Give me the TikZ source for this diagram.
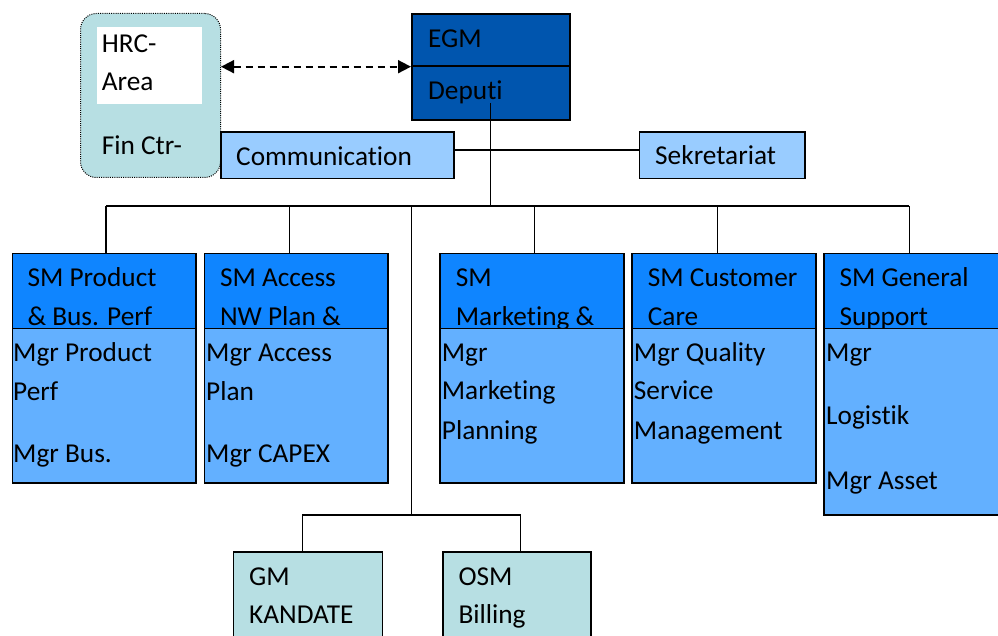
\documentclass[tikz,border=0pt]{standalone}
\usepackage{fontspec}
\setmainfont{Carlito}[Ligatures={NoCommon,NoContextual}]
\usetikzlibrary{arrows.meta}
\newcommand\Ti{t\kern0pt i}
\definecolor{egmblue}{RGB}{0,85,174}
\definecolor{smtop}{RGB}{15,133,255}
\definecolor{smlow}{RGB}{99,176,255}
\definecolor{liteblue}{RGB}{153,204,255}
\definecolor{tealbox}{RGB}{183,223,227}
\tikzset{
  frame/.style={draw=black, line width=1.6pt, inner sep=0pt, anchor=north west},
  lbl/.style={anchor=base west, inner sep=0pt, font=\fontsize{27.3}{33}\selectfont},
  conn/.style={draw=black, line width=1.3pt},
  smbox/.style={frame, fill=smlow,
    path picture={
      \fill[smtop] (path picture bounding box.north west) rectangle ([yshift=-75pt]path picture bounding box.north east);
      \draw[line width=1.6pt] ([yshift=-75pt]path picture bounding box.north west) -- ([yshift=-75pt]path picture bounding box.north east);
    }},
}
\begin{document}
\begin{tikzpicture}[x=1pt,y=-1pt]
\clip (0,0) rectangle (998,636);
\fill[white] (0,0) rectangle (998,636);

% HRC container
\node[frame, draw=black, line width=1pt, dash pattern=on 1pt off 1.2pt, rounded corners=16pt, fill=tealbox,
      minimum width=140pt, minimum height=164pt] (hrc) at (80,13) {};
\node[anchor=north west, inner sep=0pt, fill=white, minimum width=105.3pt, minimum height=77pt] (hrcw) at (96.7,27) {};
\node[lbl] (thrc) at (101.7,53) {HRC-};
\node[lbl] (tarea) at (101.7,91) {Area};
\node[lbl] (tfin) at (101.7,155) {Fin Ctr-};

% EGM
\node[frame, fill=egmblue, minimum width=158pt, minimum height=106pt] (egm) at (411,13) {};
\draw[line width=1.6pt] (egm.west |- 0,66) -- (egm.east |- 0,66);
\node[lbl] (tegm) at (428,48) {EGM};
\node[lbl] (tdep) at (428,100) {Depu\Ti};

% dashed double arrow
\draw[draw=black, line width=1.7pt, dash pattern=on 7pt off 5pt, {Triangle[length=13pt,width=13pt]}-{Triangle[length=13pt,width=13pt]}] (hrc.east |- 0,66.7) -- (egm.west |- 0,66.7);

% Communication / Sekretariat
\node[frame, fill=liteblue, minimum width=233pt, minimum height=46.4pt] (comm) at (220,131.3) {};
\node[lbl] (tcomm) at (236,166) {Communica\Ti on};
\node[frame, fill=liteblue, minimum width=165.6pt, minimum height=46.4pt] (sekr) at (638.7,131.3) {};
\node[lbl] (tsekr) at (655,165) {Sekretariat};

% connectors top
\coordinate (dep) at (490.5,103);
\coordinate (busc) at (490.5,206);
\coordinate (bus1) at (106,206);
\coordinate (bus2) at (289.5,206);
\coordinate (bussub) at (411.7,206);
\coordinate (bus3) at (534.3,206);
\coordinate (bus4) at (717.5,206);
\coordinate (bus5) at (909.3,206);
\coordinate (subb) at (411.7,515);
\coordinate (gmT) at (302.5,515);
\coordinate (osmT) at (520.8,515);
\draw[conn] (dep) -- (busc);
\draw[conn] (comm.east |- 0,150) -- (sekr.west |- 0,150);
\draw[conn] (bus1) -- (bus5);

% SM boxes
\node[smbox, minimum width=183.3pt, minimum height=229.6pt] (sm1) at (11.7,252.7) {};
\node[smbox, minimum width=183.6pt, minimum height=229.6pt] (sm2) at (203.7,252.7) {};
\node[smbox, minimum width=184pt, minimum height=229.6pt] (sm3) at (439,252.7) {};
\node[smbox, minimum width=183.7pt, minimum height=229.6pt] (sm4) at (631.3,252.7) {};
\node[smbox, minimum width=180pt, minimum height=261.6pt] (sm5) at (823.3,252.7) {};

\draw[conn] (bus1) -- (bus1 |- sm1.north);
\draw[conn] (bus2) -- (bus2 |- sm2.north);
\draw[conn] (bus3) -- (bus3 |- sm3.north);
\draw[conn] (bus4) -- (bus4 |- sm4.north);
\draw[conn] (bus5) -- (bus5 |- sm5.north);

% top texts, clipped at divider
\begin{scope}
\clip (0,252.7) rectangle (998,327);
\node[lbl] (t11) at (27.3,286.7) {SM Product};
\node[lbl] (t12) at (27.3,325) {\& Bus. Perf};
\node[lbl] (t21) at (219.8,286.7) {SM Access};
\node[lbl] (t22) at (219.8,325) {NW Plan \&};
\node[lbl] (t31) at (455.7,286.7) {SM};
\node[lbl] (t32) at (455.7,325) {Marke\Ti ng \&};
\node[lbl] (t41) at (647.7,286.7) {SM Customer};
\node[lbl] (t42) at (647.7,325) {Care};
\node[lbl] (t51) at (839.3,286.7) {SM General};
\node[lbl] (t52) at (839.3,325) {Support};
\end{scope}

% lower texts
\node[lbl] (m11) at (13,361.7) {Mgr Product};
\node[lbl] (m12) at (13,400) {Perf};
\node[lbl] (m13) at (13,462.7) {Mgr Bus.};
\node[lbl] (m21) at (206,361.7) {Mgr Access};
\node[lbl] (m22) at (206,400) {Plan};
\node[lbl] (m23) at (206,462.7) {Mgr CAPEX};
\node[lbl] (m31) at (441.7,361.7) {Mgr};
\node[lbl] (m32) at (441.7,399.3) {Marke\Ti ng};
\node[lbl] (m33) at (441.7,439.3) {Planning};
\node[lbl] (m41) at (633.7,361.7) {Mgr Quality};
\node[lbl] (m42) at (633.7,399.3) {Service};
\node[lbl] (m43) at (633.7,439.3) {Management};
\node[lbl] (m51) at (826,361.7) {Mgr};
\node[lbl] (m52) at (826,424.3) {Logis\Ti k};
\node[lbl] (m53) at (826,489.3) {Mgr Asset};

% GM / OSM
\node[frame, fill=tealbox, minimum width=149pt, minimum height=150pt] (gm) at (232.7,551) {};
\node[frame, fill=tealbox, minimum width=148pt, minimum height=150pt] (osm) at (442,551) {};
\node[lbl] (tgm1) at (249,585) {GM};
\node[lbl] (tgm2) at (249,623.3) {KANDATE};
\node[lbl] (tosm1) at (458.3,585) {OSM};
\node[lbl] (tosm2) at (458.3,623.3) {Billing};

\draw[conn] (bussub) -- (subb);
\draw[conn] (gmT |- gm.north) -- (gmT) -- (osmT) -- (osmT |- osm.north);
\end{tikzpicture}
\end{document}
